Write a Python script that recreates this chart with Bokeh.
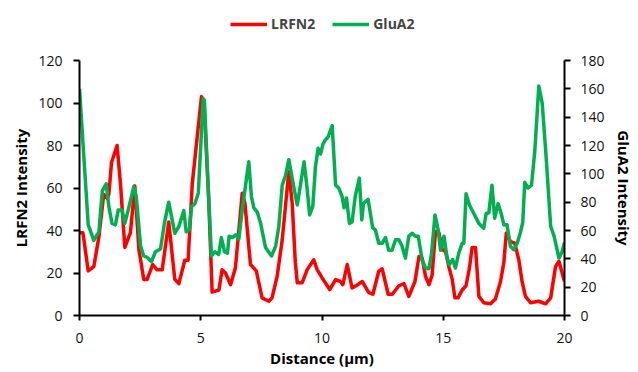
from bokeh.plotting import figure
from bokeh.layouts import column
from bokeh.models import Range1d, LinearAxis, FixedTicker, Legend, LegendItem
from bokeh.embed import file_html
from bokeh.resources import INLINE

# LRFN2 profile (distance in µm, intensity)
lrfn2_x = [0.0, 0.14, 0.36, 0.59, 0.80, 1.0, 1.15, 1.21, 1.32, 1.55, 1.69, 1.87, 2.1, 2.28, 2.45,
           2.65, 2.79, 3.02, 3.2, 3.41, 3.68, 3.93, 4.1, 4.34, 4.48, 4.65, 5.03, 5.13, 5.33, 5.47,
           5.75, 5.88, 6.02, 6.23, 6.43, 6.71, 6.82, 7.05, 7.29, 7.53, 7.81, 7.94, 8.15, 8.36, 8.63,
           8.77, 8.9, 8.98, 9.18, 9.39, 9.66, 9.8, 10.0, 10.32, 10.56, 10.76, 10.86, 11.04, 11.24,
           11.41, 11.66, 11.93, 12.1, 12.34, 12.48, 12.73, 12.9, 13.17, 13.38, 13.58, 13.83, 14.0,
           14.13, 14.27, 14.41, 14.54, 14.68, 14.82, 14.96, 15.1, 15.23, 15.37, 15.48, 15.61, 15.78,
           15.94, 16.08, 16.19, 16.33, 16.47, 16.67, 16.95, 17.15, 17.36, 17.5, 17.6, 17.77, 17.95,
           18.12, 18.25, 18.39, 18.6, 18.94, 19.22, 19.43, 19.63, 19.77, 20.0]
lrfn2_y = [39, 39, 21, 23, 37, 57, 55, 57, 72, 80, 62, 32, 39, 61, 31,
           17, 17, 24, 21.5, 21.5, 44, 17, 15, 26, 26, 62, 103, 101, 54, 11,
           12, 21.5, 20, 14.5, 22.5, 57.5, 53, 24, 21, 8.3, 6.7, 8.3, 18.4, 35.6, 67.7,
           53, 25, 15.4, 15.4, 21.6, 26.2, 21.6, 17.8, 12.2, 16.9, 16, 14.5, 24, 13,
           14, 16, 10.8, 10, 20.8, 22, 10, 10, 14, 15, 9, 15.9, 27.8,
           27, 18.4, 14.5, 19, 39.5, 39, 31, 30, 23, 17, 8.3, 8.3, 12,
           14, 22.3, 32, 32, 9, 6, 5.5, 7.8, 15.9, 25, 38.8, 34.8, 34,
           26, 16, 9, 6, 6.7, 5.5, 8.3, 23, 25.5, 16]

# GluA2 profile (distance in µm, intensity)
glua2_x = [0.0, 0.36, 0.59, 0.80, 0.94, 1.1, 1.21, 1.34, 1.48, 1.6, 1.75, 1.87, 2.03, 2.24, 2.34,
           2.52, 2.65, 2.79, 2.97, 3.13, 3.34, 3.5, 3.68, 3.93, 4.1, 4.3, 4.4, 4.53, 4.62, 4.76,
           4.9, 5.1, 5.15, 5.3, 5.44, 5.58, 5.74, 5.85, 5.98, 6.1, 6.17, 6.3, 6.45, 6.57, 6.71,
           6.98, 7.09, 7.19, 7.33, 7.47, 7.67, 7.92, 8.09, 8.22, 8.36, 8.5, 8.63, 8.8, 8.98, 9.12,
           9.26, 9.39, 9.49, 9.62, 9.73, 9.84, 9.94, 10.04, 10.14, 10.25, 10.42, 10.56, 10.69,
           10.83, 10.91, 11.01, 11.13, 11.24, 11.37, 11.54, 11.64, 11.71, 11.9, 12.09, 12.2, 12.34,
           12.48, 12.62, 12.75, 12.89, 13.03, 13.17, 13.3, 13.44, 13.58, 13.72, 13.85, 13.97,
           14.13, 14.27, 14.41, 14.52, 14.66, 14.79, 14.89, 15.03, 15.16, 15.25, 15.39, 15.5,
           15.64, 15.78, 15.85, 15.94, 16.08, 16.26, 16.47, 16.67, 16.77, 16.88, 17.01, 17.12,
           17.26, 17.39, 17.5, 17.63, 17.77, 17.91, 18.05, 18.19, 18.28, 18.36, 18.5, 18.64,
           18.78, 18.94, 19.08, 19.25, 19.43, 19.57, 19.77, 19.9, 20.0]
glua2_y = [160, 64, 53, 59, 88, 93, 77, 65, 64, 74.5, 74.5, 65, 76, 91, 84,
           49, 42, 41, 38, 45, 47, 65, 80, 58, 63, 74, 59, 60.5, 77, 79,
           86.5, 153, 152, 93.5, 42, 45, 43, 55, 45, 44, 56, 55, 57, 54, 74.5,
           108.5, 84, 76, 73, 65, 48, 42, 49, 63, 92, 99, 110, 94, 78, 93,
           108.5, 89, 71, 77, 105, 118, 114, 121, 124, 126, 134, 92, 90,
           84, 76, 83, 65, 66, 84, 97, 67.5, 79, 82, 62, 60.5, 51,
           51, 55, 46, 46, 53.5, 53.5, 49, 40.5, 56, 58, 56, 56,
           39, 33.5, 33, 44, 71, 60.5, 46, 56, 40.5, 36, 39.5, 33.5,
           44, 51, 51, 86, 78, 72, 65, 61.6, 72, 72.5, 92, 68.7,
           79, 72, 64, 64, 48.7, 46.4, 51, 59, 66, 94, 90, 92,
           117, 162, 150, 110, 63, 56, 40.5, 45, 51.6]

series_names = ["LRFN2", "GluA2"]
series_colors = ["#FF0000", "#00B050"]

x_ticks = [0, 5, 10, 15, 20]
left_ticks = [0, 20, 40, 60, 80, 100, 120]
right_ticks = [0, 20, 40, 60, 80, 100, 120, 140, 160, 180]

FONT = "Open Sans"

# ---- header strip holding the legend ----
head = figure(width=638, height=40, x_range=Range1d(0, 1), y_range=Range1d(0, 1),
              output_backend="svg", toolbar_location=None, min_border=0,
              x_axis_type=None, y_axis_type=None)
head.outline_line_color = None
head.xgrid.visible = False
head.ygrid.visible = False

nan = float("nan")
leg_renderers = [head.line([nan], [nan], line_color=c, line_width=3.5) for c in series_colors]
legend = Legend(items=[LegendItem(label=n, renderers=[r]) for n, r in zip(series_names, leg_renderers)],
                orientation="horizontal", location=(151, 7),
                glyph_width=37, glyph_height=16, label_standoff=4, spacing=17,
                padding=0, margin=0, border_line_color=None, background_fill_alpha=0,
                label_text_font=FONT, label_text_font_size="14px",
                label_text_font_style="bold", label_height=16)
head.add_layout(legend, "center")

# ---- main chart ----
p = figure(width=638, height=332, x_range=Range1d(0, 20), y_range=Range1d(0, 120),
           output_backend="svg", toolbar_location=None,
           min_border_left=79, min_border_right=74, min_border_top=20, min_border_bottom=57)
p.extra_y_ranges = {"glu": Range1d(0, 180)}
p.outline_line_color = None
p.xgrid.visible = False
p.ygrid.visible = False

right_axis = LinearAxis(y_range_name="glu")
p.add_layout(right_axis, "right")

def style_axis(ax, ticks, title, standoff_lbl, standoff_title):
    ax.ticker = FixedTicker(ticks=ticks)
    ax.minor_tick_line_color = None
    ax.axis_line_color = "black"
    ax.axis_line_width = 2
    ax.major_tick_line_color = "black"
    ax.major_tick_line_width = 2
    ax.major_tick_in = 0
    ax.major_tick_out = 6
    ax.major_label_standoff = standoff_lbl
    ax.major_label_text_font = FONT
    ax.major_label_text_font_size = "14px"
    ax.major_label_text_color = "#111111"
    ax.axis_label = title
    ax.axis_label_text_font = FONT
    ax.axis_label_text_font_size = "15px"
    ax.axis_label_text_font_style = "bold"
    ax.axis_label_text_color = "black"
    ax.axis_label_standoff = standoff_title

style_axis(p.xaxis[0], x_ticks, "Distance (µm)", 12, 2)
style_axis(p.yaxis[0], left_ticks, "LRFN2 Intensity", 11, 4)
style_axis(right_axis, right_ticks, "GluA2 Intensity", 10, 6)
p.xaxis[0].major_tick_out = 5

p.line(lrfn2_x, lrfn2_y, line_color=series_colors[0], line_width=3.5, line_join="round")
p.line(glua2_x, glua2_y, line_color=series_colors[1], line_width=3.5, line_join="round",
       y_range_name="glu")

layout = column(head, p, spacing=0)
open("out.html", "w").write(file_html(layout, INLINE))
